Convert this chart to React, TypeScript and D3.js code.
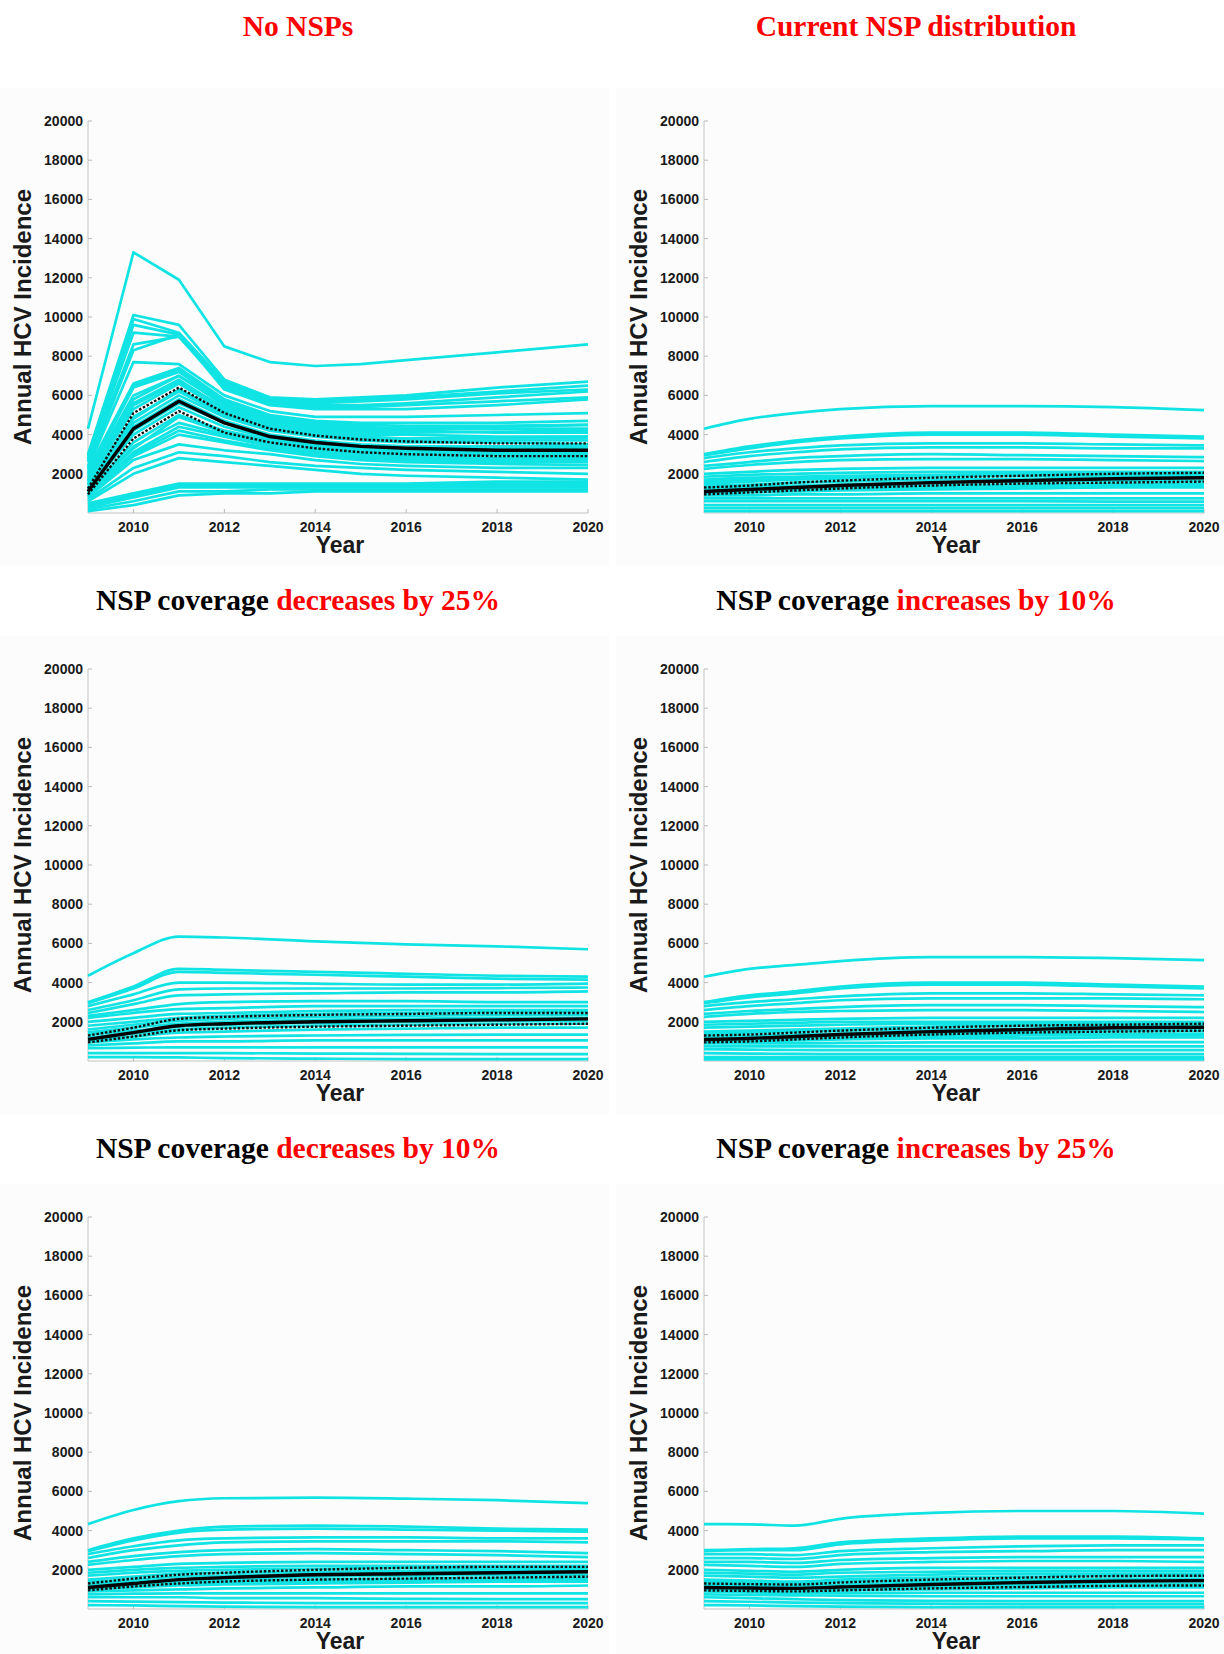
import React from "react";
import * as d3 from "d3";

// ---------- data (values in thousands of annual HCV infections) ----------
const UNIT = 1000;
const YEARS_A = [2009, 2010, 2011, 2012, 2013, 2014, 2015, 2016, 2018, 2020];
const YEARS_B = [2009, 2010, 2011, 2012, 2014, 2016, 2018, 2020];
const Y_TICKS = [2000, 4000, 6000, 8000, 10000, 12000, 14000, 16000, 18000, 20000];
const X_TICKS = [2010, 2012, 2014, 2016, 2018, 2020];

// Panel 1: No NSPs
const NO_NSP_RUNS = [
  [4.3, 13.3, 11.9, 8.5, 7.7, 7.5, 7.6, 7.8, 8.2, 8.6],
  [3.0, 10.1, 9.6, 6.8, 5.9, 5.8, 5.9, 6.0, 6.4, 6.7],
  [2.9, 9.9, 9.2, 6.7, 5.8, 5.7, 5.8, 5.9, 6.2, 6.5],
  [2.8, 9.6, 9.1, 6.6, 5.8, 5.6, 5.7, 5.8, 6.1, 6.3],
  [2.7, 9.2, 9.0, 6.5, 5.7, 5.5, 5.5, 5.6, 5.9, 6.2],
  [2.6, 8.6, 9.0, 6.4, 5.6, 5.4, 5.4, 5.5, 5.7, 5.9],
  [2.4, 8.3, 9.1, 6.3, 5.5, 5.3, 5.3, 5.3, 5.5, 5.8],
  [2.3, 7.7, 7.6, 6.0, 5.2, 4.9, 4.9, 4.9, 5.0, 5.1],
  [2.2, 6.6, 7.4, 5.8, 5.0, 4.7, 4.6, 4.6, 4.6, 4.7],
  [2.1, 6.5, 7.3, 5.7, 4.9, 4.6, 4.5, 4.45, 4.45, 4.5],
  [2.0, 6.4, 7.2, 5.6, 4.8, 4.5, 4.4, 4.3, 4.3, 4.3],
  [1.9, 6.0, 7.0, 5.5, 4.6, 4.3, 4.2, 4.2, 4.1, 4.1],
  [1.8, 5.6, 6.8, 5.3, 4.5, 4.2, 4.0, 4.0, 3.9, 3.9],
  [1.7, 5.8, 7.0, 5.6, 4.7, 4.4, 4.3, 4.3, 4.4, 4.5],
  [1.65, 5.5, 6.7, 5.4, 4.6, 4.25, 4.1, 4.1, 4.15, 4.2],
  [1.6, 5.3, 6.6, 5.2, 4.4, 4.1, 3.9, 3.8, 3.8, 3.8],
  [1.5, 4.9, 6.2, 5.0, 4.3, 4.0, 3.8, 3.7, 3.7, 3.7],
  [1.45, 4.8, 6.3, 5.1, 4.3, 4.0, 3.85, 3.8, 3.85, 3.9],
  [1.4, 4.6, 6.0, 4.9, 4.2, 3.9, 3.7, 3.6, 3.6, 3.5],
  [1.3, 4.4, 5.8, 4.7, 4.0, 3.7, 3.5, 3.4, 3.4, 3.4],
  [1.25, 4.2, 5.6, 4.6, 3.9, 3.6, 3.4, 3.35, 3.3, 3.3],
  [1.2, 4.0, 5.4, 4.4, 3.8, 3.5, 3.3, 3.2, 3.1, 3.1],
  [1.1, 3.6, 5.0, 4.2, 3.7, 3.4, 3.2, 3.1, 3.0, 3.0],
  [1.05, 3.3, 4.9, 4.1, 3.6, 3.3, 3.1, 3.0, 2.95, 2.9],
  [1.0, 3.4, 4.6, 4.0, 3.5, 3.2, 3.0, 2.9, 2.8, 2.8],
  [0.95, 3.1, 4.4, 3.9, 3.4, 3.1, 2.9, 2.8, 2.7, 2.7],
  [0.9, 3.0, 4.2, 3.7, 3.3, 3.0, 2.8, 2.7, 2.6, 2.6],
  [0.85, 2.9, 4.0, 3.6, 3.2, 2.9, 2.7, 2.6, 2.5, 2.45],
  [0.8, 2.7, 3.5, 3.2, 3.0, 2.7, 2.5, 2.4, 2.3, 2.3],
  [0.7, 2.3, 3.1, 2.9, 2.6, 2.4, 2.3, 2.2, 2.1, 2.0],
  [0.6, 2.0, 2.8, 2.6, 2.4, 2.2, 2.0, 1.9, 1.8, 1.7],
  [0.5, 1.0, 1.5, 1.5, 1.5, 1.5, 1.5, 1.5, 1.6, 1.6],
  [0.45, 0.95, 1.45, 1.45, 1.45, 1.45, 1.45, 1.45, 1.5, 1.5],
  [0.4, 0.9, 1.4, 1.4, 1.4, 1.4, 1.4, 1.4, 1.4, 1.4],
  [0.3, 0.8, 1.3, 1.3, 1.3, 1.3, 1.3, 1.3, 1.3, 1.3],
  [0.2, 0.6, 1.1, 1.1, 1.2, 1.2, 1.2, 1.2, 1.2, 1.2],
  [0.1, 0.4, 0.9, 1.0, 1.0, 1.1, 1.1, 1.1, 1.1, 1.1],
];
const NO_NSP_MEDIAN = [1.1, 4.3, 5.7, 4.6, 3.9, 3.6, 3.4, 3.3, 3.2, 3.2];
const NO_NSP_UPPER = [1.25, 5.1, 6.4, 5.1, 4.3, 3.95, 3.75, 3.65, 3.55, 3.55];
const NO_NSP_LOWER = [0.95, 3.8, 5.2, 4.1, 3.6, 3.3, 3.1, 3.0, 2.9, 2.9];

// Panel 2: Current NSP distribution
const CURRENT_RUNS = [
  [4.3, 4.8, 5.1, 5.3, 5.45, 5.45, 5.4, 5.25],
  [3.0, 3.4, 3.7, 3.9, 4.1, 4.1, 4.0, 3.9],
  [2.95, 3.3, 3.6, 3.8, 4.0, 4.0, 3.9, 3.8],
  [2.8, 3.1, 3.3, 3.45, 3.55, 3.55, 3.5, 3.45],
  [2.6, 2.9, 3.1, 3.25, 3.35, 3.35, 3.3, 3.3],
  [2.4, 2.6, 2.8, 2.9, 3.0, 2.95, 2.9, 2.85],
  [2.25, 2.45, 2.6, 2.7, 2.75, 2.75, 2.7, 2.65],
  [2.0, 2.1, 2.2, 2.25, 2.3, 2.3, 2.3, 2.3],
  [1.85, 1.95, 2.0, 2.05, 2.1, 2.1, 2.1, 2.1],
  [1.7, 1.8, 1.85, 1.9, 1.95, 2.0, 2.0, 2.0],
  [1.6, 1.7, 1.75, 1.8, 1.9, 1.95, 1.95, 1.95],
  [1.5, 1.6, 1.7, 1.75, 1.85, 1.9, 1.9, 1.9],
  [1.4, 1.45, 1.55, 1.6, 1.7, 1.75, 1.8, 1.8],
  [1.3, 1.35, 1.4, 1.45, 1.55, 1.6, 1.65, 1.65],
  [1.2, 1.25, 1.3, 1.35, 1.4, 1.45, 1.5, 1.5],
  [1.1, 1.15, 1.2, 1.25, 1.3, 1.35, 1.4, 1.4],
  [1.0, 1.05, 1.1, 1.15, 1.2, 1.25, 1.3, 1.3],
  [0.9, 0.9, 0.95, 0.95, 1.0, 1.0, 1.0, 1.0],
  [0.75, 0.75, 0.75, 0.75, 0.75, 0.75, 0.75, 0.75],
  [0.6, 0.6, 0.6, 0.6, 0.6, 0.6, 0.58, 0.58],
  [0.4, 0.4, 0.4, 0.4, 0.4, 0.4, 0.4, 0.4],
  [0.25, 0.25, 0.25, 0.25, 0.25, 0.25, 0.25, 0.25],
  [0.1, 0.1, 0.1, 0.1, 0.1, 0.1, 0.1, 0.1],
];
const CURRENT_MEDIAN = [1.1, 1.2, 1.3, 1.4, 1.55, 1.65, 1.75, 1.8];
const CURRENT_UPPER = [1.3, 1.4, 1.55, 1.65, 1.8, 1.9, 2.0, 2.05];
const CURRENT_LOWER = [0.95, 1.05, 1.15, 1.25, 1.4, 1.5, 1.55, 1.6];

// Panel 3: NSP coverage decreases by 25%
const DEC25_RUNS = [
  [4.35, 5.5, 6.35, 6.3, 6.1, 5.95, 5.85, 5.7],
  [3.0, 3.8, 4.7, 4.65, 4.55, 4.45, 4.35, 4.3],
  [2.95, 3.7, 4.55, 4.5, 4.4, 4.3, 4.2, 4.15],
  [2.8, 3.4, 4.0, 4.0, 3.95, 3.9, 3.9, 3.95],
  [2.6, 3.1, 3.65, 3.7, 3.7, 3.7, 3.72, 3.75],
  [2.45, 2.9, 3.35, 3.4, 3.45, 3.5, 3.5, 3.55],
  [2.3, 2.6, 2.9, 3.0, 3.05, 3.05, 3.0, 3.0],
  [2.2, 2.45, 2.65, 2.7, 2.8, 2.8, 2.8, 2.8],
  [2.0, 2.2, 2.4, 2.45, 2.55, 2.6, 2.6, 2.6],
  [1.8, 2.0, 2.2, 2.3, 2.4, 2.45, 2.5, 2.5],
  [1.6, 1.85, 2.05, 2.15, 2.25, 2.3, 2.35, 2.35],
  [1.45, 1.7, 1.9, 2.0, 2.1, 2.15, 2.2, 2.2],
  [1.35, 1.55, 1.75, 1.85, 1.95, 2.0, 2.05, 2.05],
  [1.2, 1.4, 1.6, 1.7, 1.8, 1.85, 1.9, 1.9],
  [1.05, 1.25, 1.45, 1.5, 1.6, 1.65, 1.7, 1.7],
  [0.95, 1.1, 1.2, 1.25, 1.3, 1.33, 1.35, 1.35],
  [0.8, 0.9, 1.0, 1.0, 1.05, 1.05, 1.05, 1.05],
  [0.65, 0.68, 0.7, 0.7, 0.7, 0.7, 0.7, 0.7],
  [0.4, 0.4, 0.4, 0.4, 0.38, 0.36, 0.35, 0.35],
  [0.2, 0.2, 0.18, 0.15, 0.12, 0.1, 0.1, 0.1],
];
const DEC25_MEDIAN = [1.1, 1.45, 1.8, 1.9, 2.0, 2.05, 2.1, 2.15];
const DEC25_UPPER = [1.3, 1.7, 2.15, 2.25, 2.35, 2.4, 2.45, 2.45];
const DEC25_LOWER = [0.95, 1.25, 1.57, 1.65, 1.75, 1.8, 1.85, 1.9];

// Panel 4: NSP coverage increases by 10%
const INC10_RUNS = [
  [4.3, 4.7, 4.9, 5.1, 5.3, 5.3, 5.25, 5.15],
  [3.0, 3.35, 3.55, 3.8, 4.0, 4.0, 3.9, 3.8],
  [2.95, 3.25, 3.45, 3.7, 3.9, 3.9, 3.8, 3.7],
  [2.8, 3.0, 3.15, 3.3, 3.45, 3.45, 3.4, 3.35],
  [2.6, 2.8, 2.95, 3.1, 3.2, 3.2, 3.2, 3.15],
  [2.4, 2.55, 2.65, 2.75, 2.85, 2.85, 2.8, 2.75],
  [2.25, 2.4, 2.5, 2.55, 2.6, 2.6, 2.55, 2.5],
  [2.0, 2.05, 2.1, 2.15, 2.2, 2.2, 2.2, 2.2],
  [1.85, 1.9, 1.95, 2.0, 2.0, 2.0, 2.0, 2.0],
  [1.7, 1.75, 1.8, 1.85, 1.9, 1.9, 1.9, 1.9],
  [1.5, 1.55, 1.6, 1.65, 1.75, 1.8, 1.8, 1.8],
  [1.4, 1.45, 1.5, 1.55, 1.6, 1.65, 1.7, 1.7],
  [1.3, 1.3, 1.35, 1.4, 1.45, 1.5, 1.55, 1.55],
  [1.2, 1.2, 1.25, 1.3, 1.35, 1.4, 1.4, 1.4],
  [1.1, 1.1, 1.15, 1.2, 1.25, 1.3, 1.3, 1.3],
  [1.0, 1.0, 1.05, 1.1, 1.15, 1.15, 1.2, 1.2],
  [0.9, 0.9, 0.9, 0.92, 0.95, 0.95, 0.96, 0.96],
  [0.75, 0.75, 0.75, 0.75, 0.75, 0.75, 0.75, 0.75],
  [0.6, 0.58, 0.56, 0.55, 0.55, 0.55, 0.55, 0.55],
  [0.4, 0.38, 0.36, 0.35, 0.35, 0.35, 0.35, 0.35],
  [0.2, 0.2, 0.2, 0.2, 0.2, 0.2, 0.2, 0.2],
  [0.08, 0.08, 0.08, 0.08, 0.08, 0.08, 0.08, 0.08],
];
const INC10_MEDIAN = [1.1, 1.15, 1.25, 1.35, 1.5, 1.6, 1.7, 1.72];
const INC10_UPPER = [1.3, 1.35, 1.45, 1.55, 1.7, 1.8, 1.85, 1.9];
const INC10_LOWER = [0.95, 1.0, 1.1, 1.2, 1.35, 1.45, 1.5, 1.55];

// Panel 5: NSP coverage decreases by 10%
const DEC10_RUNS = [
  [4.33, 5.05, 5.5, 5.65, 5.68, 5.63, 5.55, 5.4],
  [3.0, 3.6, 4.0, 4.2, 4.25, 4.2, 4.1, 4.05],
  [2.95, 3.5, 3.9, 4.05, 4.1, 4.05, 4.0, 3.95],
  [2.8, 3.2, 3.5, 3.6, 3.65, 3.65, 3.6, 3.6],
  [2.6, 3.0, 3.25, 3.4, 3.45, 3.45, 3.45, 3.4],
  [2.4, 2.7, 2.9, 3.0, 3.05, 3.0, 2.95, 2.85],
  [2.25, 2.5, 2.7, 2.8, 2.85, 2.8, 2.75, 2.65],
  [2.0, 2.15, 2.3, 2.35, 2.4, 2.4, 2.4, 2.4],
  [1.85, 2.0, 2.1, 2.15, 2.2, 2.2, 2.2, 2.2],
  [1.7, 1.85, 1.95, 2.0, 2.05, 2.1, 2.1, 2.1],
  [1.5, 1.65, 1.8, 1.85, 1.9, 1.95, 2.0, 2.0],
  [1.4, 1.5, 1.65, 1.7, 1.8, 1.85, 1.9, 1.9],
  [1.3, 1.4, 1.5, 1.55, 1.65, 1.7, 1.75, 1.75],
  [1.2, 1.3, 1.4, 1.45, 1.5, 1.55, 1.6, 1.6],
  [1.1, 1.2, 1.3, 1.35, 1.4, 1.45, 1.5, 1.5],
  [1.0, 1.1, 1.2, 1.25, 1.3, 1.35, 1.4, 1.4],
  [0.9, 0.95, 1.0, 1.05, 1.1, 1.15, 1.15, 1.2],
  [0.75, 0.78, 0.8, 0.8, 0.8, 0.8, 0.8, 0.8],
  [0.6, 0.6, 0.6, 0.55, 0.55, 0.52, 0.5, 0.5],
  [0.4, 0.38, 0.35, 0.33, 0.3, 0.3, 0.3, 0.3],
  [0.2, 0.18, 0.15, 0.12, 0.1, 0.1, 0.1, 0.1],
];
const DEC10_MEDIAN = [1.1, 1.3, 1.5, 1.6, 1.75, 1.8, 1.85, 1.9];
const DEC10_UPPER = [1.3, 1.55, 1.75, 1.85, 2.0, 2.1, 2.15, 2.15];
const DEC10_LOWER = [0.95, 1.15, 1.3, 1.4, 1.5, 1.55, 1.6, 1.65];

// Panel 6: NSP coverage increases by 25%
const INC25_RUNS = [
  [4.33, 4.32, 4.25, 4.6, 4.9, 5.0, 5.0, 4.87],
  [3.0, 3.05, 3.1, 3.4, 3.6, 3.7, 3.7, 3.6],
  [2.95, 3.0, 3.0, 3.3, 3.5, 3.6, 3.6, 3.55],
  [2.8, 2.8, 2.75, 2.95, 3.1, 3.2, 3.25, 3.25],
  [2.6, 2.6, 2.55, 2.75, 2.9, 2.95, 3.0, 3.0],
  [2.4, 2.4, 2.35, 2.5, 2.6, 2.65, 2.65, 2.65],
  [2.25, 2.2, 2.15, 2.3, 2.4, 2.45, 2.45, 2.4],
  [2.0, 1.95, 1.9, 2.0, 2.1, 2.1, 2.1, 2.1],
  [1.85, 1.8, 1.75, 1.85, 1.9, 1.95, 1.95, 1.95],
  [1.7, 1.65, 1.6, 1.65, 1.75, 1.8, 1.8, 1.8],
  [1.5, 1.45, 1.4, 1.5, 1.6, 1.65, 1.7, 1.7],
  [1.4, 1.35, 1.3, 1.4, 1.45, 1.5, 1.55, 1.55],
  [1.3, 1.25, 1.2, 1.25, 1.35, 1.4, 1.45, 1.45],
  [1.2, 1.15, 1.1, 1.15, 1.2, 1.25, 1.3, 1.3],
  [1.1, 1.05, 1.0, 1.05, 1.1, 1.15, 1.2, 1.2],
  [1.0, 0.95, 0.9, 0.95, 1.0, 1.05, 1.1, 1.1],
  [0.9, 0.85, 0.82, 0.82, 0.83, 0.83, 0.83, 0.83],
  [0.75, 0.72, 0.7, 0.68, 0.65, 0.65, 0.65, 0.65],
  [0.6, 0.55, 0.5, 0.45, 0.42, 0.4, 0.4, 0.4],
  [0.4, 0.37, 0.33, 0.3, 0.27, 0.25, 0.25, 0.25],
  [0.2, 0.18, 0.15, 0.12, 0.1, 0.1, 0.1, 0.1],
];
const INC25_MEDIAN = [1.1, 1.07, 1.05, 1.12, 1.25, 1.35, 1.42, 1.45];
const INC25_UPPER = [1.3, 1.27, 1.25, 1.35, 1.5, 1.6, 1.68, 1.7];
const INC25_LOWER = [0.95, 0.92, 0.9, 0.95, 1.05, 1.12, 1.18, 1.2];

// Titles: [black part, red part]
const TITLES = [
  ["", "No NSPs"],
  ["", "Current NSP distribution"],
  ["NSP coverage ", "decreases by 25%"],
  ["NSP coverage ", "increases by 10%"],
  ["NSP coverage ", "decreases by 10%"],
  ["NSP coverage ", "increases by 25%"],
];

const PANELS = [
  { years: YEARS_A, runs: NO_NSP_RUNS, median: NO_NSP_MEDIAN, upper: NO_NSP_UPPER, lower: NO_NSP_LOWER, smooth: false },
  { years: YEARS_B, runs: CURRENT_RUNS, median: CURRENT_MEDIAN, upper: CURRENT_UPPER, lower: CURRENT_LOWER, smooth: true },
  { years: YEARS_B, runs: DEC25_RUNS, median: DEC25_MEDIAN, upper: DEC25_UPPER, lower: DEC25_LOWER, smooth: true },
  { years: YEARS_B, runs: INC10_RUNS, median: INC10_MEDIAN, upper: INC10_UPPER, lower: INC10_LOWER, smooth: true },
  { years: YEARS_B, runs: DEC10_RUNS, median: DEC10_MEDIAN, upper: DEC10_UPPER, lower: DEC10_LOWER, smooth: true },
  { years: YEARS_B, runs: INC25_RUNS, median: INC25_MEDIAN, upper: INC25_UPPER, lower: INC25_LOWER, smooth: true },
];

// ---------- layout ----------
const W = 1224;
const H = 1654;
const COL_X = [88, 704];
const COL_TITLE_X = [298, 916];
const ROW_Y = [121, 669, 1217];
const TITLE_BASE = [36, 610, 1158];
const PLOT_W = 500;
const PLOT_H = 392;
const CYAN = "#10e3e3";
const SANS = "'Liberation Sans', Arial, Helvetica, sans-serif";
const SERIF = "'Liberation Serif', 'Times New Roman', Times, serif";

function Panel({ idx }: { idx: number }) {
  const col = idx % 2;
  const row = Math.floor(idx / 2);
  const x0 = COL_X[col];
  const y0 = ROW_Y[row];
  const p = PANELS[idx];
  const x = d3.scaleLinear().domain([2009, 2020]).range([x0, x0 + PLOT_W]);
  const y = d3.scaleLinear().domain([0, 20000]).range([y0 + PLOT_H, y0]);
  const line = d3
    .line<number>()
    .x((_, i) => x(p.years[i]))
    .y((d) => y(d * UNIT))
    .curve(p.smooth ? d3.curveMonotoneX : d3.curveLinear);
  const bgX = col === 0 ? 0 : 616;
  const bgY = y0 - 33;
  const [blackPart, redPart] = TITLES[idx];
  return (
    <g>
      <rect x={bgX} y={bgY} width={col === 0 ? 609 : 608} height={478} fill="#fcfcfc" />
      <text
        x={COL_TITLE_X[col]}
        y={TITLE_BASE[row]}
        textAnchor="middle"
        fontFamily={SERIF}
        fontWeight="bold"
        fontSize={29.5}
      >
        {blackPart ? <tspan fill="#000">{blackPart}</tspan> : null}
        <tspan fill="#ff0000">{redPart}</tspan>
      </text>
      {/* axes */}
      <line x1={x0} x2={x0} y1={y0} y2={y0 + PLOT_H} stroke="#c4c4c4" strokeWidth={1} />
      <line x1={x0} x2={x0 + PLOT_W} y1={y0 + PLOT_H} y2={y0 + PLOT_H} stroke="#c4c4c4" strokeWidth={1} />
      {Y_TICKS.map((t) => (
        <g key={"y" + t}>
          <line x1={x0} x2={x0 + 4} y1={y(t)} y2={y(t)} stroke="#bbb" strokeWidth={1} />
          <text
            x={x0 - 5}
            y={y(t) + 5}
            textAnchor="end"
            fontFamily={SANS}
            fontWeight="bold"
            fontSize={14}
            fill="#1a1a1a"
          >
            {t}
          </text>
        </g>
      ))}
      {X_TICKS.map((t) => (
        <g key={"x" + t}>
          <line x1={x(t)} x2={x(t)} y1={y0 + PLOT_H} y2={y0 + PLOT_H - 4} stroke="#bbb" strokeWidth={1} />
          <text
            x={x(t)}
            y={y0 + PLOT_H + 19}
            textAnchor="middle"
            fontFamily={SANS}
            fontWeight="bold"
            fontSize={14}
            fill="#1a1a1a"
          >
            {t}
          </text>
        </g>
      ))}
      <text
        x={x0 + PLOT_W / 2 + 2}
        y={y0 + PLOT_H + 40}
        textAnchor="middle"
        fontFamily={SANS}
        fontWeight="bold"
        fontSize={23}
        fill="#1a1a1a"
      >
        Year
      </text>
      <text
        transform={`translate(${x0 - 57},${y0 + 196}) rotate(-90)`}
        textAnchor="middle"
        fontFamily={SANS}
        fontWeight="bold"
        fontSize={24}
        fill="#1a1a1a"
      >
        Annual HCV Incidence
      </text>
      {/* simulation runs */}
      {p.runs.map((r, i) => (
        <path key={"r" + i} d={line(r) || ""} fill="none" stroke={CYAN} strokeWidth={2.7} strokeLinejoin="round" />
      ))}
      <path d={line(p.upper) || ""} fill="none" stroke="#111" strokeWidth={2.4} strokeDasharray="2.5,1.8" />
      <path d={line(p.lower) || ""} fill="none" stroke="#111" strokeWidth={2.4} strokeDasharray="2.5,1.8" />
      <path d={line(p.median) || ""} fill="none" stroke="#000" strokeWidth={3.4} strokeLinejoin="round" />
    </g>
  );
}

export default function App() {
  return (
    <svg
      width={W}
      height={H}
      viewBox={`0 0 ${W} ${H}`}
      style={{ position: "absolute", left: 0, top: 0, background: "#fff" }}
    >
      <rect x={0} y={0} width={W} height={H} fill="#fff" />
      {PANELS.map((_, i) => (
        <Panel key={i} idx={i} />
      ))}
    </svg>
  );
}
